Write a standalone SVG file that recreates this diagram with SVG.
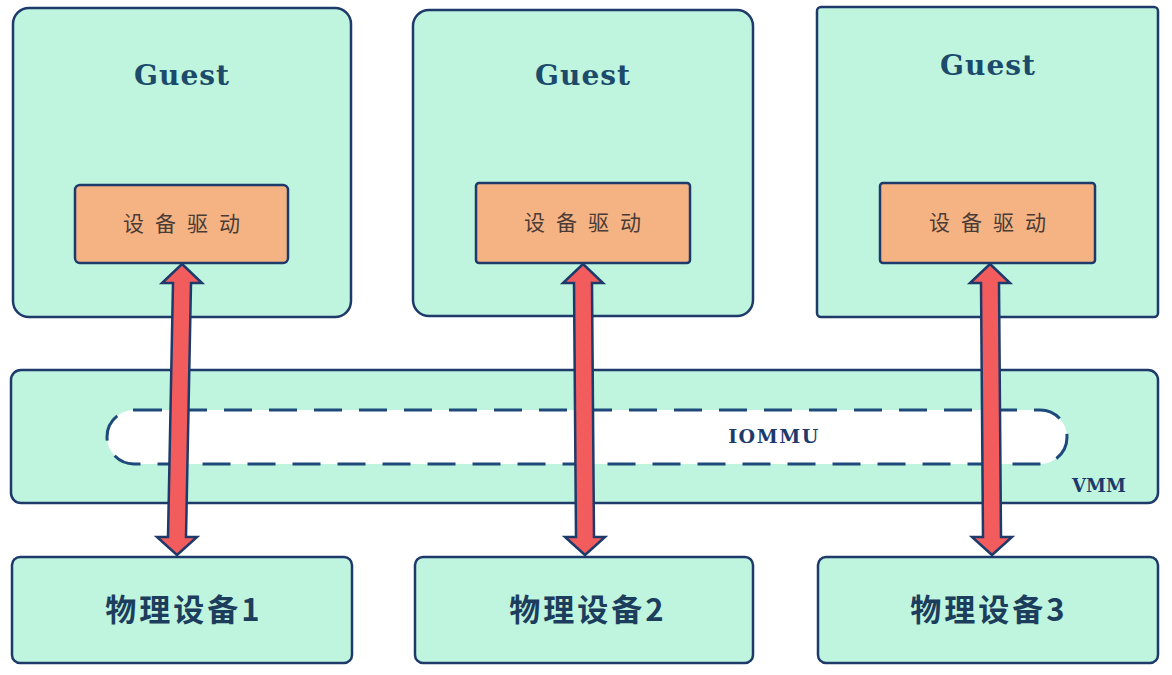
<svg xmlns="http://www.w3.org/2000/svg" width="1172" height="675" viewBox="0 0 1172 675">
<style>
.box{fill:#bff5de;stroke:#1e3a6b;stroke-width:2.5}
.drv{fill:#f5b384;stroke:#1e3a6b;stroke-width:2.5}
.pill{fill:#ffffff;stroke:#1e4a7b;stroke-width:3;stroke-dasharray:28 17}
.arrow{fill:#f25c5c;stroke:#1e3a6b;stroke-width:2.5;stroke-linejoin:miter}
.guest{font-family:"DejaVu Serif","Liberation Serif",serif;font-weight:bold;font-size:28px;letter-spacing:1px;fill:#1c4a6b;text-anchor:middle}
.dtxt{font-family:"Noto Sans CJK SC",sans-serif;font-size:21px;letter-spacing:11px;fill:#4a3b36;text-anchor:middle}
.ptxt{font-family:"Noto Sans CJK SC",sans-serif;font-weight:bold;font-size:31px;letter-spacing:3px;fill:#1c3d5c;text-anchor:middle}
.lbl{font-family:"DejaVu Serif","Liberation Serif",serif;font-weight:bold;fill:#1e3a6b;text-anchor:middle}
</style>
<rect width="1172" height="675" fill="#ffffff"/>
<g id="guest1">
<rect class="box" x="13" y="8" width="338" height="309" rx="16"/>
<text class="guest" x="182" y="85">Guest</text>
</g>
<g id="driver1">
<rect class="drv" x="75" y="185" width="213" height="78" rx="5"/>
<text class="dtxt" x="187" y="231">设备驱动</text>
</g>
<g id="guest2">
<rect class="box" x="413" y="10" width="340" height="306" rx="16"/>
<text class="guest" x="583" y="85">Guest</text>
</g>
<g id="driver2">
<rect class="drv" x="476" y="183" width="214" height="80" rx="3"/>
<text class="dtxt" x="588" y="230">设备驱动</text>
</g>
<g id="guest3">
<rect class="box" x="817" y="7" width="341" height="310" rx="4"/>
<text class="guest" x="988" y="75">Guest</text>
</g>
<g id="driver3">
<rect class="drv" x="880" y="183" width="215" height="80" rx="3"/>
<text class="dtxt" x="993" y="230">设备驱动</text>
</g>
<g id="vmm">
<rect class="box" x="11" y="370" width="1147" height="133" rx="10"/>
<text class="lbl" x="1099" y="492" font-size="18">VMM</text>
</g>
<g id="iommu">
<rect class="pill" x="107" y="410" width="960" height="54" rx="27"/>
<text class="lbl" x="774" y="443" font-size="19" letter-spacing="1.5">IOMMU</text>
</g>
<g id="phys1">
<rect class="box" x="12" y="557" width="340" height="106" rx="8"/>
<text class="ptxt" x="184" y="621">物理设备1</text>
</g>
<g id="phys2">
<rect class="box" x="415" y="557" width="338" height="106" rx="8"/>
<text class="ptxt" x="588" y="621">物理设备2</text>
</g>
<g id="phys3">
<rect class="box" x="818" y="557" width="340" height="106" rx="8"/>
<text class="ptxt" x="989" y="621">物理设备3</text>
</g>
<g id="connectors">
<polygon class="arrow" points="182,264 202,283 191,283 186,537 197,537 177,555 157,537 168,537 173,283 162,283"/>
<polygon class="arrow" points="583,264 603,283 592,283 594,537 605,537 585,555 565,537 576,537 574,283 563,283"/>
<polygon class="arrow" points="990,264 1010,283 999,283 1001,537 1012,537 992,555 972,537 983,537 981,283 970,283"/>
</g>
</svg>
